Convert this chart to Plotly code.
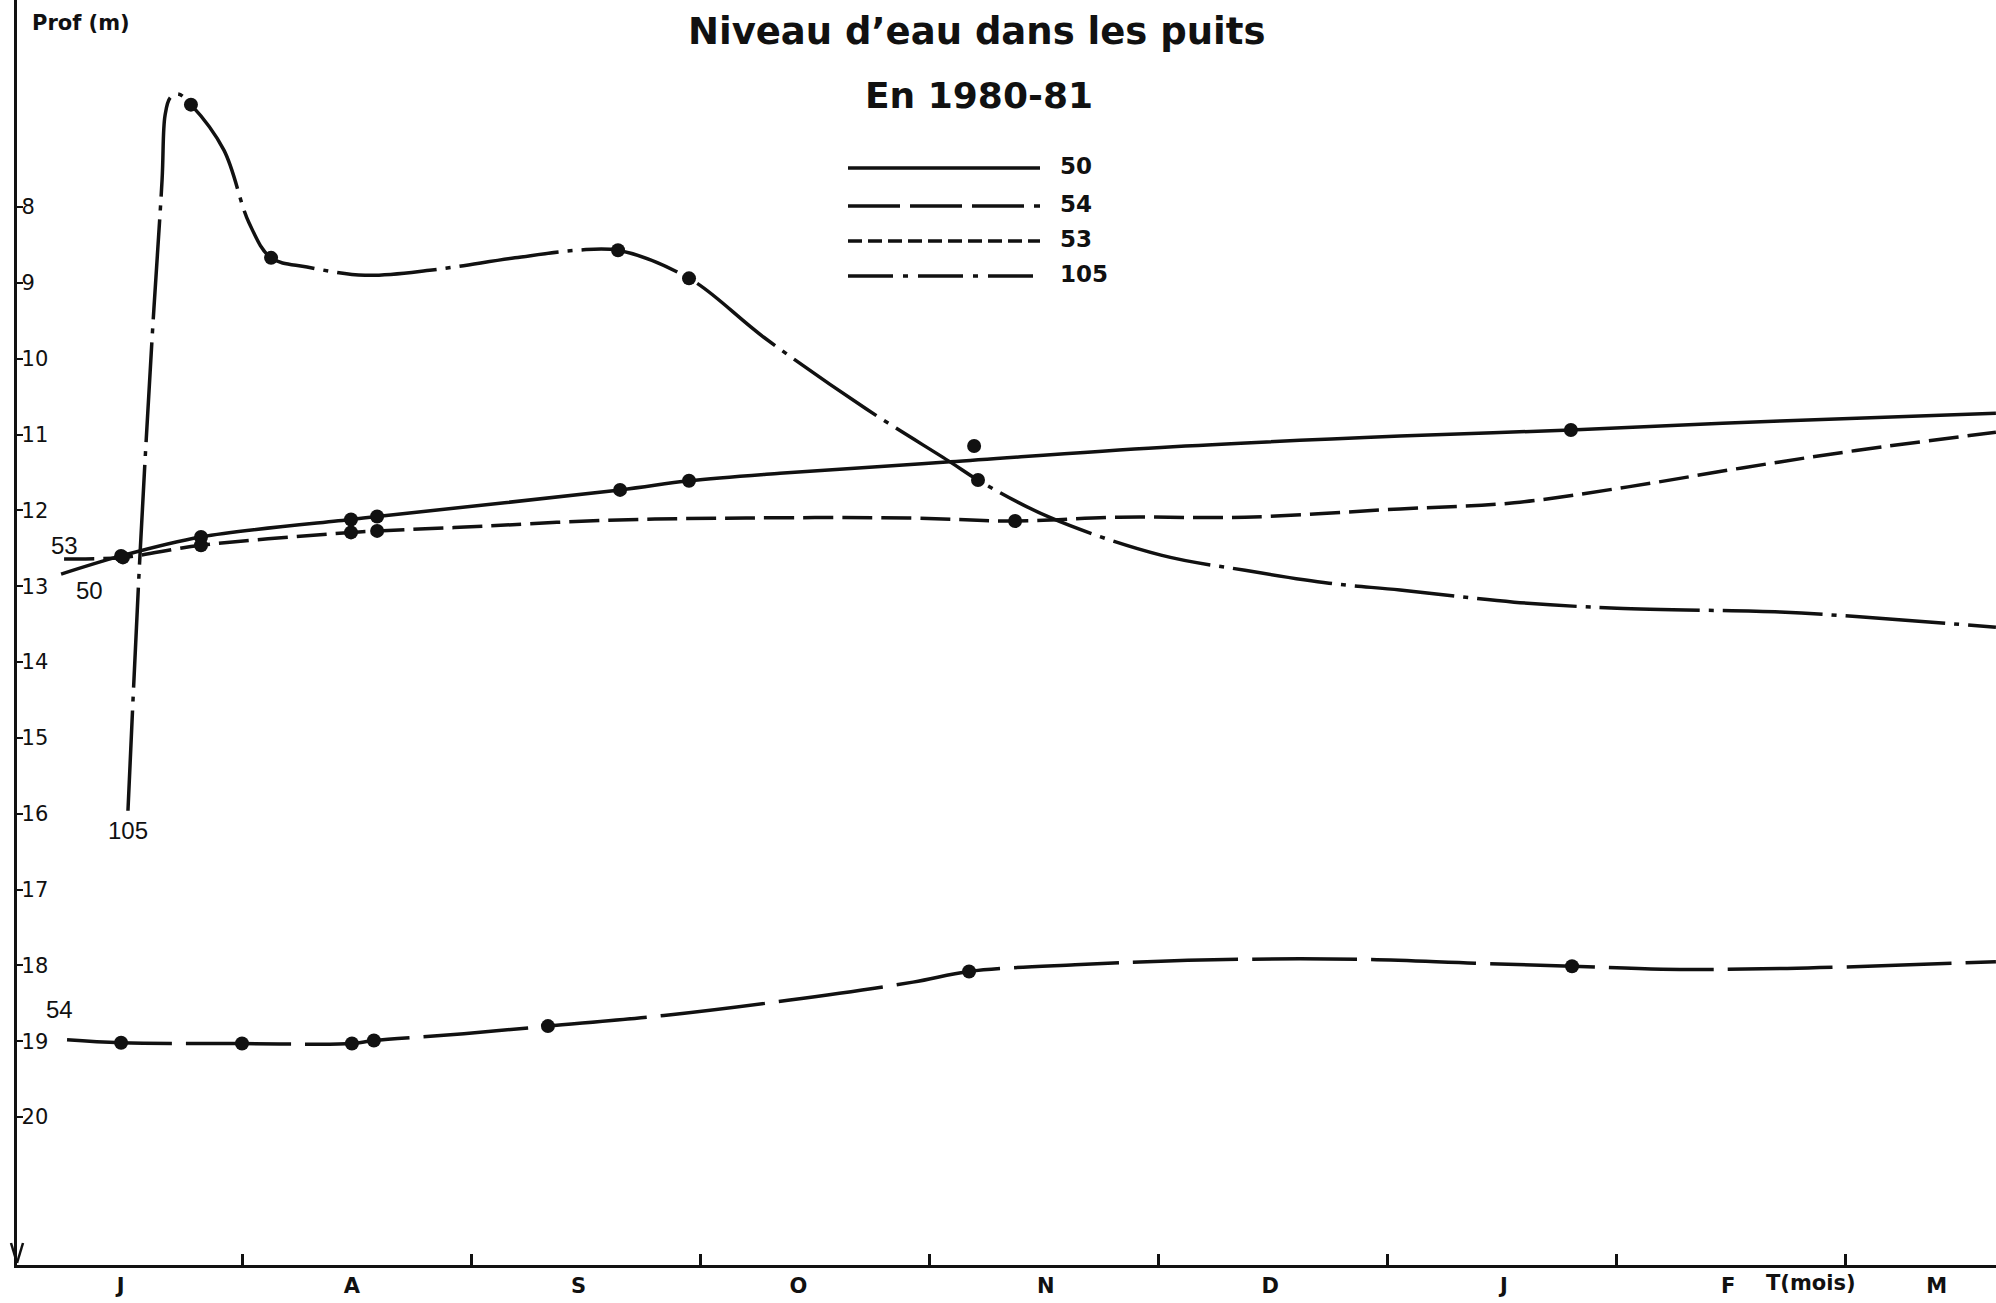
import plotly.graph_objects as go

# Time axis: months counted from 1 July 1980 (0 = start of July, 1 = start of August, ...)
mois_labels = ["J", "A", "S", "O", "N", "D", "J", "F", "M"]
mois_label_pos = [0.47, 1.48, 2.47, 3.43, 4.51, 5.49, 6.51, 7.49, 8.40]
mois_limites = [1, 2, 3, 4, 5, 6, 7, 8]
prof_ticks = list(range(8, 21))

# ---- Well 50 ----
p50_mes_t = [0.472, 0.821, 1.476, 1.590, 2.651, 2.952, 6.803]
p50_mes_prof = [12.60, 12.35, 12.12, 12.08, 11.73, 11.61, 10.94]
p50_trace_t = [0.210, 3.349, 4.092, 5.013, 6.057, 7.716, 8.659]
p50_trace_prof = [12.84, 11.51, 11.36, 11.17, 11.02, 10.82, 10.72]
p50_isole_t = [4.197]
p50_isole_prof = [11.15]

# ---- Well 53 ----
p53_mes_t = [0.480, 0.821, 1.476, 1.590, 4.376]
p53_mes_prof = [12.62, 12.46, 12.29, 12.27, 12.14]
p53_trace_t = [0.223, 1.974, 2.590, 3.201, 3.908, 4.830, 5.380, 6.057, 6.555,
               7.052, 7.550, 8.048, 8.659]
p53_trace_prof = [12.64, 12.22, 12.13, 12.10, 12.10, 12.09, 12.09, 11.98, 11.90,
                  11.69, 11.44, 11.21, 10.97]

# ---- Well 54 ----
p54_mes_t = [0.472, 1.000, 1.480, 1.576, 2.336, 4.175, 6.808]
p54_mes_prof = [19.02, 19.03, 19.03, 18.99, 18.80, 18.08, 18.01]
p54_trace_t = [0.236, 1.969, 2.843, 3.384, 3.930, 4.638, 5.349, 5.891, 6.384,
               7.201, 7.747, 8.659]
p54_trace_prof = [18.98, 18.90, 18.66, 18.46, 18.22, 17.99, 17.92, 17.92, 17.97,
                  18.05, 18.04, 17.95]

# ---- Well 105 ----
p105_mes_t = [0.777, 1.127, 2.642, 2.952, 4.214]
p105_mes_prof = [6.65, 8.67, 8.57, 8.94, 11.60]
p105_trace_t = [0.502, 0.555, 0.607, 0.651, 0.664, 0.686, 0.721, 0.921, 1.031,
                1.284, 1.537, 1.830, 2.192, 2.463, 3.280, 3.725, 4.092, 4.533,
                5.013, 5.380, 5.747, 6.057, 6.555, 7.004, 7.716, 8.048, 8.659]
p105_trace_prof = [15.96, 12.56, 9.75, 7.64, 6.79, 6.56, 6.51, 7.25, 8.21,
                   8.79, 8.90, 8.83, 8.67, 8.57, 9.72, 10.66, 11.36, 12.10,
                   12.59, 12.79, 12.96, 13.05, 13.21, 13.29, 13.34, 13.40, 13.54]

puits = [
    ("50", p50_mes_t, p50_mes_prof, p50_trace_t, p50_trace_prof, "solid"),
    ("54", p54_mes_t, p54_mes_prof, p54_trace_t, p54_trace_prof, "105px,14px"),
    ("53", p53_mes_t, p53_mes_prof, p53_trace_t, p53_trace_prof, "30px,9px"),
    ("105", p105_mes_t, p105_mes_prof, p105_trace_t, p105_trace_prof,
     "100px,9px,5px,9px"),
]

FONT = "DejaVu Sans"
INK = "#111111"
LW = 3.5
MS = 14

fig = go.Figure()

for nom, mt, mp, tt, tp, dash in puits:
    pts = sorted(zip(list(mt) + list(tt), list(mp) + list(tp)))
    fig.add_trace(go.Scatter(
        x=[p[0] for p in pts], y=[p[1] for p in pts],
        mode="lines", name=nom, showlegend=False,
        line=dict(color=INK, width=LW, dash=dash, shape="spline", smoothing=1.0),
        hoverinfo="skip",
    ))
    fig.add_trace(go.Scatter(
        x=mt, y=mp, mode="markers", showlegend=False,
        marker=dict(color=INK, size=MS), hoverinfo="skip",
    ))

fig.add_trace(go.Scatter(
    x=p50_isole_t, y=p50_isole_prof, mode="markers", showlegend=False,
    marker=dict(color=INK, size=MS), hoverinfo="skip",
))

# Plot area geometry (pixels) used for paper-space decorations
W, H = 1996, 1303
ML, MB = 17, 38
PW, PH = W - ML, H - MB


def px(xp):
    return (xp - ML) / PW


def py(yp):
    return (PH - yp) / PH


annotations = []
shapes = []

# Titles
annotations.append(dict(text="<b>Niveau d’eau dans les puits</b>", x=px(976), y=py(32),
                        xref="paper", yref="paper", showarrow=False,
                        xanchor="center", yanchor="middle",
                        font=dict(family=FONT, size=37, color=INK)))
annotations.append(dict(text="<b>En 1980-81</b>", x=px(979), y=py(95),
                        xref="paper", yref="paper", showarrow=False,
                        xanchor="center", yanchor="middle",
                        font=dict(family=FONT, size=36, color=INK)))
annotations.append(dict(text="<b>Prof (m)</b>", x=px(30), y=py(23),
                        xref="paper", yref="paper", showarrow=False,
                        xanchor="left", yanchor="middle",
                        font=dict(family=FONT, size=21, color=INK)))
annotations.append(dict(text="<b>T(mois)</b>", x=7.85, y=py(1283),
                        xref="x", yref="paper", showarrow=False,
                        xanchor="center", yanchor="middle",
                        font=dict(family=FONT, size=21, color=INK)))

# Key
legende = [("50", 168, "solid"), ("54", 206, "52px,10px"),
           ("53", 241, "14px,6px"), ("105", 276, "45px,10px,5px,10px")]
for nom, yk, dash in legende:
    shapes.append(dict(type="line", xref="paper", yref="paper",
                       x0=px(848), x1=px(1040), y0=py(yk), y1=py(yk),
                       line=dict(color=INK, width=LW, dash=dash)))
    annotations.append(dict(text="<b>" + nom + "</b>", x=px(1058), y=py(yk - 2),
                            xref="paper", yref="paper", showarrow=False,
                            xanchor="left", yanchor="middle",
                            font=dict(family=FONT, size=23, color=INK)))

# Well names written beside the curves
etiquettes = [("53", 0.227, 12.46), ("50", 0.332, 13.06),
              ("105", 0.502, 16.22), ("54", 0.201, 18.58)]
for txt, xt, yt in etiquettes:
    annotations.append(dict(text=txt, x=xt, y=yt, xref="x", yref="y",
                            showarrow=False, xanchor="center", yanchor="middle",
                            font=dict(family="Liberation Sans", size=24, color=INK)))

# Downward arrow at the foot of the depth axis
shapes.append(dict(type="line", xref="paper", yref="paper",
                   x0=px(11), y0=py(1243), x1=px(17), y1=py(1263),
                   line=dict(color=INK, width=2.5)))
shapes.append(dict(type="line", xref="paper", yref="paper",
                   x0=px(23), y0=py(1243), x1=px(17), y1=py(1263),
                   line=dict(color=INK, width=2.5)))

fig.update_layout(
    width=W, height=H,
    margin=dict(l=ML, r=0, t=0, b=MB),
    paper_bgcolor="white", plot_bgcolor="white",
    showlegend=False,
    annotations=annotations, shapes=shapes,
    xaxis=dict(
        range=[(ML - 13) / 229, (W - 13) / 229],
        showgrid=False, zeroline=False,
        showline=True, linecolor=INK, linewidth=2.5,
        tickmode="array", tickvals=mois_label_pos,
        ticktext=["<b>" + m + "</b>" for m in mois_labels],
        ticks="", tickfont=dict(family=FONT, size=21, color=INK),
        minor=dict(tickmode="array", tickvals=mois_limites, ticks="inside",
                   ticklen=11, tickwidth=2.5, tickcolor=INK, showgrid=False),
    ),
    yaxis=dict(
        range=[21.95, 5.27],
        showgrid=False, zeroline=False,
        showline=True, linecolor=INK, linewidth=2.5,
        tickmode="array", tickvals=prof_ticks,
        ticktext=[str(v) for v in prof_ticks],
        ticks="inside", ticklen=6, tickwidth=2, tickcolor=INK,
        ticklabelposition="inside",
        tickfont=dict(family=FONT, size=21, color=INK),
    ),
)

fig.write_html("out.html")
